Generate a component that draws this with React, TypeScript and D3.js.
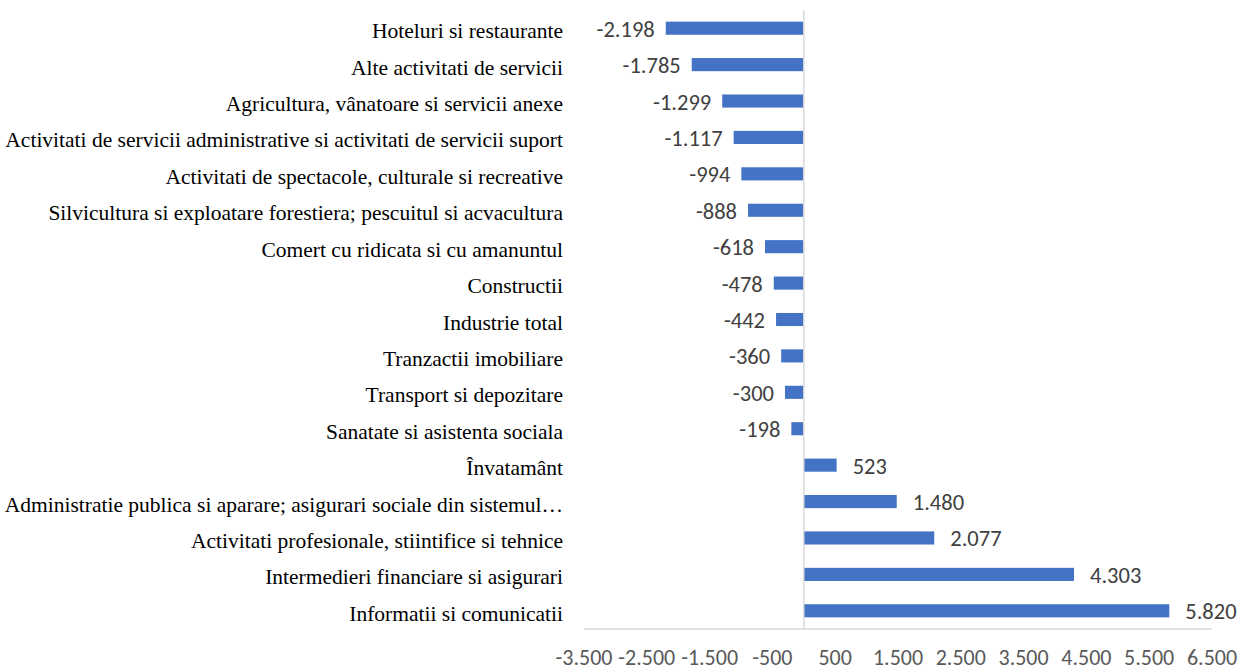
import React from "react";
import * as d3 from "d3";

const categories: string[] = [
  "Hoteluri si restaurante",
  "Alte activitati de servicii",
  "Agricultura, vânatoare si servicii anexe",
  "Activitati de servicii administrative si activitati de servicii suport",
  "Activitati de spectacole, culturale si recreative",
  "Silvicultura si exploatare forestiera; pescuitul si acvacultura",
  "Comert cu ridicata si cu amanuntul",
  "Constructii",
  "Industrie total",
  "Tranzactii imobiliare",
  "Transport si depozitare",
  "Sanatate si asistenta sociala",
  "Învatamânt",
  "Administratie publica si aparare; asigurari sociale din sistemul…",
  "Activitati profesionale, stiintifice si tehnice",
  "Intermedieri financiare si asigurari",
  "Informatii si comunicatii",
];

const values: number[] = [
  -2198, -1785, -1299, -1117, -994, -888, -618, -478, -442, -360, -300, -198,
  523, 1480, 2077, 4303, 5820,
];

const tickValues: number[] = [-3500, -2500, -1500, -500, 500, 1500, 2500, 3500, 4500, 5500, 6500];

const W = 1245;
const H = 670;

const ro = d3.formatLocale({ decimal: ",", thousands: ".", grouping: [3], currency: ["", ""], minus: "-" });
const fmt = ro.format(",d");

export default function App() {
  const x = d3.scaleLinear().domain([-3500, 6500]).range([584, 1212]);
  const y = d3.scaleBand<string>().domain(categories).range([10, 629]).paddingInner(0.64).paddingOuter(0.32);
  const bw = y.bandwidth();
  const numFont = "Carlito, Lato, 'Open Sans', sans-serif";
  return (
    <svg width={W} height={H} style={{ position: "absolute", left: 0, top: 0, background: "#fff" }}>
      {categories.map((c, i) => {
        const v = values[i];
        const x0 = x(Math.min(0, v));
        const x1 = x(Math.max(0, v));
        return <rect key={c} x={x0} y={y(c)!} width={x1 - x0} height={bw} fill="#4472C4" />;
      })}
      <line x1={x(0)} x2={x(0)} y1={10} y2={629} stroke="#d9d9d9" strokeWidth={1.5} />
      <line x1={x(-3500)} x2={x(6500)} y1={629} y2={629} stroke="#d9d9d9" strokeWidth={1.5} />
      {categories.map((c) => (
        <text
          key={"l" + c}
          x={563}
          y={y(c)! + bw / 2}
          dy={10}
          textAnchor="end"
          fontFamily="'Liberation Serif', 'Times New Roman', serif"
          fontSize={21.5}
          fill="#000"
        >
          {c}
        </text>
      ))}
      {categories.map((c, i) => {
        const v = values[i];
        const pos = v >= 0;
        return (
          <text
            key={"v" + c}
            x={x(v) + (pos ? 16 : -11)}
            y={y(c)! + bw / 2}
            dy={8.5}
            textAnchor={pos ? "start" : "end"}
            fontFamily={numFont}
            fontSize={22.5}
            fill="#404040"
          >
            {fmt(v)}
          </text>
        );
      })}
      {tickValues.map((t) => (
        <text
          key={"t" + t}
          x={x(t)}
          y={665}
          textAnchor="middle"
          fontFamily={numFont}
          fontSize={22}
          fill="#595959"
        >
          {fmt(t)}
        </text>
      ))}
    </svg>
  );
}
